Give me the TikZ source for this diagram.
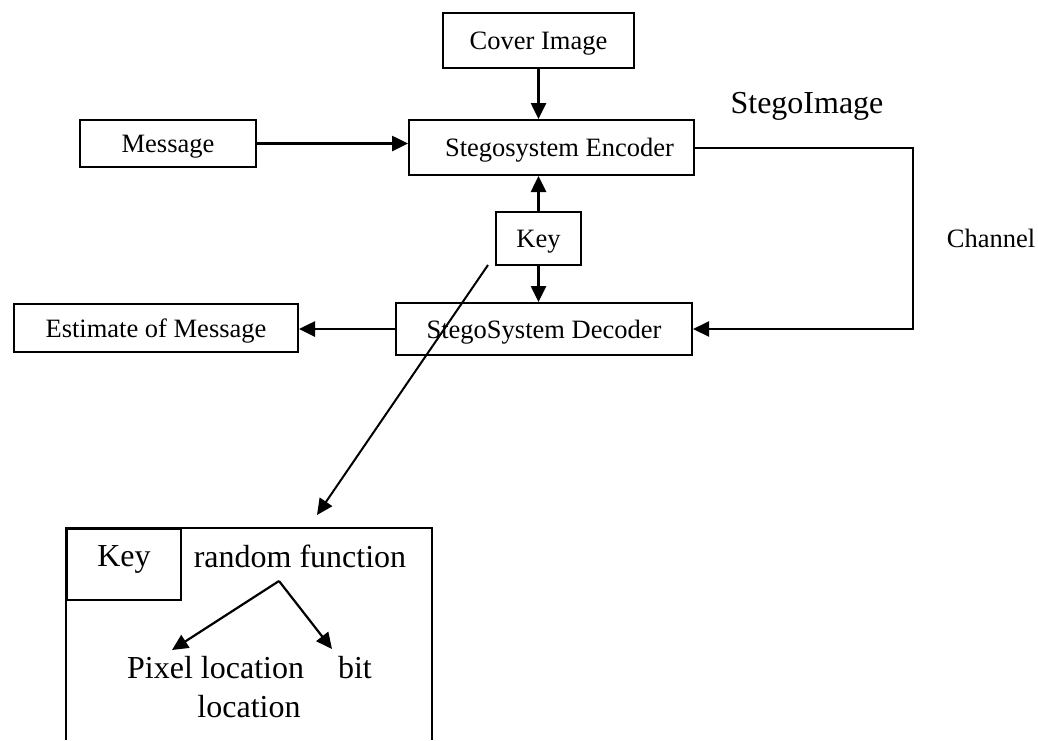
\documentclass[tikz,border=0pt]{standalone}
\usepackage{fontspec}
\setmainfont{Liberation Serif}
\usetikzlibrary{arrows.meta}
\begin{document}
\begin{tikzpicture}[x=1pt,y=-1pt,
  smallfont/.style={font=\fontsize{26.5}{30}\selectfont},
  bigfont/.style={font=\fontsize{32}{38}\selectfont},
  box/.style={draw,line width=2pt,inner sep=0pt,smallfont,
    text height=22pt,text depth=4pt},
  tip/.style={-{Triangle[length=16pt,width=15pt]}},
  arr/.style={line width=2.6pt,tip},
  wire/.style={line width=2pt},
  lbl/.style={inner sep=0pt,anchor=base}]
  \useasboundingbox (0,0) rectangle (1038,740);

  % upper block diagram
  \node[box,minimum width=191pt,minimum height=55pt] (cover) at (538.5,40.5) {Cover Image};
  \node[box,minimum width=285pt,minimum height=55pt] (enc) at (551.5,147.5) {\hspace*{16pt}Stegosystem Encoder};
  \node[box,minimum width=176pt,minimum height=47pt] (msg) at (168,143.5) {Message};
  \node[box,minimum width=85pt,minimum height=53pt] (key) at (538.5,238.5) {Key};
  \node[box,minimum width=296pt,minimum height=52pt] (dec) at (544,329) {StegoSystem Decoder};
  \node[box,minimum width=284pt,minimum height=48pt] (est) at (156,328) {Estimate of Message};

  \node[lbl,bigfont] (stego) at (807,113) {StegoImage};
  \node[lbl,smallfont] (chan) at (991,247) {Channel};

  \draw[arr] (cover.south) -- (cover.south |- enc.north);
  \draw[arr] (msg.east) -- (msg.east -| enc.west);
  \draw[arr] (key.north) -- (key.north |- enc.south);
  \draw[arr] (key.south) -- (key.south |- dec.north);
  \draw[arr] (dec.west) -- (dec.west -| est.east);
  \draw[wire,tip] (enc.east) -- ++(218,0) |- (dec.east);

  % detail of the key: random function
  \coordinate (bl) at (66,740);
  \coordinate (tl) at (66,528);
  \coordinate (tr) at (432,528);
  \coordinate (br) at (432,740);
  \draw[wire] (bl) -- (tl) -- (tr) -- (br);
  \node[draw,line width=2pt,inner sep=0pt,bigfont,anchor=north west,
    minimum width=114pt,minimum height=71pt,text height=13pt,text depth=10pt] (kin) at (tl) {Key};

  \coordinate (ds) at ([shift={(-7,-1)}]key.south west);
  \coordinate (de) at (317,515);
  \draw[wire,tip] (ds) -- (de);

  \node[lbl,bigfont] (rf) at (300,567) {random function};
  \coordinate (split) at (279,581);
  \coordinate (pxl) at (172,650);
  \coordinate (bitp) at (332,649);
  \draw[arr,line width=2.2pt] (split) -- (pxl);
  \draw[arr,line width=2.2pt] (split) -- (bitp);
  \node[lbl,bigfont] (loc1) at (249.5,678) {Pixel location\hspace{34pt}bit};
  \node[lbl,bigfont] (loc2) at (249,717) {location};
\end{tikzpicture}
\end{document}
